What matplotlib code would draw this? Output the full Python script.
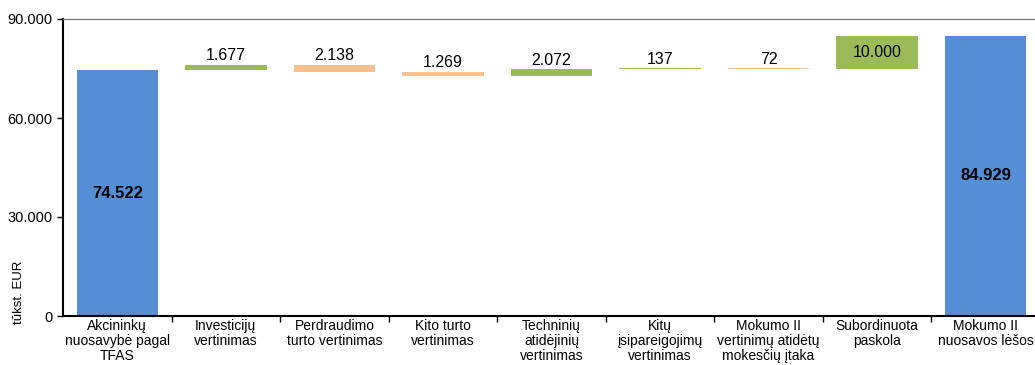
import matplotlib
matplotlib.use('Agg')
import matplotlib.pyplot as plt
from matplotlib.ticker import FuncFormatter, FixedLocator
import numpy as np

plt.rcParams['font.family'] = ['Liberation Sans', 'DejaVu Sans']

categories = ['Akcininkų\nnuosavybė pagal\nTFAS', 'Investicijų\nvertinimas',
              'Perdraudimo\nturto vertinimas', 'Kito turto\nvertinimas',
              'Techninių\natidėjinių\nvertinimas', 'Kitų\nįsipareigojimų\nvertinimas',
              'Mokumo II\nvertinimų atidėtų\nmokesčių įtaka', 'Subordinuota\npaskola',
              'Mokumo II\nnuosavos lėšos']
start_value = 74522
changes = [1677, -2138, -1269, 2072, 137, -72, 10000]
end_value = 84929

blue = '#558ED5'
green = '#9BBB59'
orange = '#FAC090'


def fmt(v, pos=None):
    return '{:,.0f}'.format(v).replace(',', '.')


fig = plt.figure(figsize=(10.35, 3.65), dpi=100)
ax = fig.add_axes([63 / 1035, 1 - 316 / 365, 977 / 1035, 297 / 365])

x = np.arange(len(categories))
w = 0.75

# totals
ax.bar(0, start_value, w, color=blue)
ax.bar(len(categories) - 1, end_value, w, color=blue)
ax.text(0, start_value / 2, fmt(start_value), ha='center', va='center',
        fontsize=12, fontweight='bold')
ax.text(len(categories) - 1, end_value / 2, fmt(end_value), ha='center',
        va='center', fontsize=12, fontweight='bold')

# changes
level = start_value
for i, d in enumerate(changes):
    new = level + d
    lo, hi = min(level, new), max(level, new)
    col = green if d > 0 else orange
    ax.bar(i + 1, hi - lo, w, bottom=lo, color=col)
    if abs(d) >= 5000:
        ax.text(i + 1, (lo + hi) / 2, fmt(abs(d)), ha='center', va='center',
                fontsize=11.5)
    else:
        ax.annotate(fmt(abs(d)), (i + 1, hi), xytext=(0, 1),
                    textcoords='offset points', ha='center', va='bottom',
                    fontsize=11.5)
    level = new

ax.set_xlim(-0.5, len(categories) - 0.5)
ax.set_ylim(0, 90000)
ax.set_yticks([0, 30000, 60000, 90000])
ax.yaxis.set_major_formatter(FuncFormatter(fmt))
ax.tick_params(axis='y', labelsize=10.5, length=4, width=1, direction='out')

ax.set_xticks(x)
ax.set_xticklabels(categories, fontsize=10, linespacing=1.1)
ax.tick_params(axis='x', length=0, pad=2)
ax.xaxis.set_minor_locator(FixedLocator(np.arange(0.5, len(categories) - 1, 1.0)))
ax.tick_params(axis='x', which='minor', length=4, width=1, direction='out')

ax.set_ylabel('tūkst. EUR', fontsize=9.5)
ax.yaxis.set_label_coords(-0.039, 0.08)

ax.spines['left'].set_linewidth(1.5)
ax.spines['bottom'].set_linewidth(1.5)
ax.spines['top'].set_color('#7f7f7f')
ax.spines['top'].set_linewidth(1)
ax.spines['right'].set_visible(False)

fig.savefig('out.png', dpi=100)
